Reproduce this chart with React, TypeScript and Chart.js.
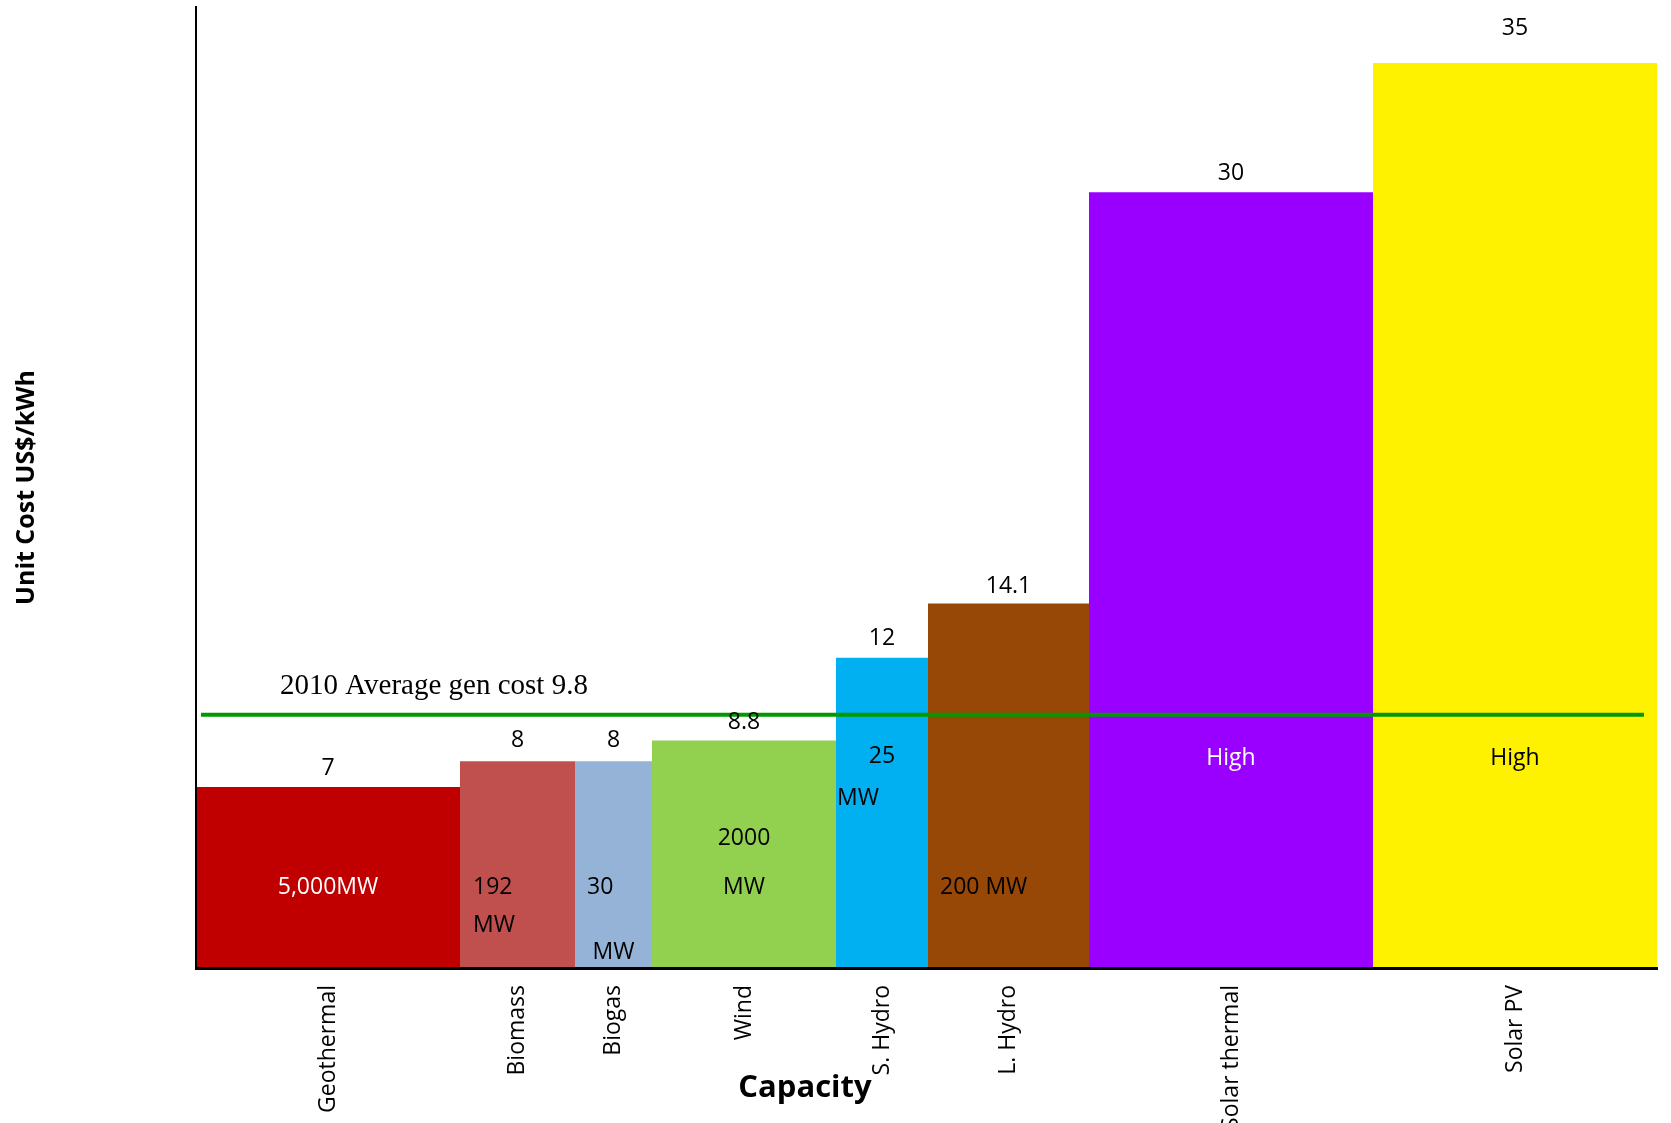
import React, { useEffect, useRef } from 'react';
import { Chart, registerables } from 'chart.js';

Chart.register(...registerables);

// ---------------- data ----------------
const categories = ['Geothermal', 'Biomass', 'Biogas', 'Wind', 'S. Hydro', 'L. Hydro', 'Solar thermal', 'Solar PV'];
const unitCosts = [7, 8, 8, 8.8, 12, 14.1, 30, 35];
const valueLabels = ['7', '8', '8', '8.8', '12', '14.1', '30', '35'];
// relative widths of the bars (capacity axis)
const barWidths = [264, 115, 77, 184, 92, 161, 284, 284];
const averageCost = 9.8;
const averageLabel = '2010 Average gen cost 9.8';
const yAxisTitle = 'Unit Cost US$/kWh';
const xAxisTitle = 'Capacity';
// capacity annotations inside bars: [bar index, text, y value]
const capacityBar = [0, 1, 1, 2, 2, 3, 3, 4, 4, 5, 6, 7];
const capacityText = ['5,000MW', '192', 'MW', '30', 'MW', '2000', 'MW', '25', 'MW', '200 MW', 'High', 'High'];
const capacityY = [3.13, 3.13, 1.66, 3.13, 0.62, 5.03, 3.13, 8.2, 6.54, 3.13, 8.12, 8.12];

// ---------------- styles / layout ----------------
const barColors = ['#C00000', '#C0504D', '#95B3D7', '#92D050', '#00B0F0', '#974706', '#9900FF', '#FFF200'];
const capacityAlign = ['center', 'left', 'left', 'left', 'center', 'center', 'center', 'center', 'left', 'left', 'center', 'center'];
const capacityInset = [0, 13, 13, 12, 0, 0, 0, 0, 1, 12, 0, 0];
const capacityColor = ['#FFFFFF', '#000', '#000', '#000', '#000', '#000', '#000', '#000', '#000', '#000', '#FFFFFF', '#000'];
const valueLabelLift = [19, 21, 21, 18, 19, 17, 19, 35];
const avgLineStart = 5;
const avgLineEnd = 1448;
const avgLabelX = 84;
const xTitleX = 609;
const Y_MAX = 37.17;

const SANS = '"Open Sans", "Noto Sans", sans-serif';

const starts: number[] = [];
barWidths.reduce((acc, w) => {
  starts.push(acc);
  return acc + w;
}, 0);
const totalWidth = barWidths.reduce((a, b) => a + b, 0);

const textPlugin = {
  id: 'textPlugin',
  afterDraw(chart: any) {
    const { ctx, chartArea } = chart;
    const x = chart.scales.x;
    const y = chart.scales.y;
    ctx.save();

    // value labels above bars
    ctx.font = `23px ${SANS}`;
    ctx.fillStyle = '#000';
    ctx.textAlign = 'center';
    ctx.textBaseline = 'middle';
    unitCosts.forEach((v, i) => {
      const cx = x.getPixelForValue(starts[i] + barWidths[i] / 2);
      ctx.fillText(valueLabels[i], cx, y.getPixelForValue(v) - valueLabelLift[i]);
    });

    // capacity annotations
    capacityText.forEach((t, k) => {
      const b = capacityBar[k];
      const align = capacityAlign[k];
      ctx.fillStyle = capacityColor[k];
      ctx.textAlign = align;
      const px =
        align === 'left'
          ? x.getPixelForValue(starts[b]) + capacityInset[k]
          : x.getPixelForValue(starts[b] + barWidths[b] / 2);
      ctx.fillText(t, px, y.getPixelForValue(capacityY[k]));
    });

    // average label
    ctx.fillStyle = '#000';
    ctx.textAlign = 'left';
    ctx.textBaseline = 'alphabetic';
    ctx.font = `29px "Liberation Serif", "Times New Roman", serif`;
    ctx.fillText(averageLabel, x.getPixelForValue(avgLabelX), y.getPixelForValue(averageCost) - 21);

    // category labels (rotated)
    ctx.font = `23px ${SANS}`;
    ctx.textAlign = 'right';
    ctx.textBaseline = 'middle';
    categories.forEach((c, i) => {
      const cx = x.getPixelForValue(starts[i] + barWidths[i] / 2);
      ctx.save();
      ctx.translate(cx, chartArea.bottom + 17);
      ctx.rotate(-Math.PI / 2);
      ctx.fillText(c, 0, 0);
      ctx.restore();
    });

    // x axis title
    ctx.font = `bold 31px ${SANS}`;
    ctx.textAlign = 'center';
    ctx.textBaseline = 'alphabetic';
    ctx.fillText(xAxisTitle, x.getPixelForValue(xTitleX), chartArea.bottom + 129);

    // y axis title
    ctx.save();
    ctx.font = `bold 25px ${SANS}`;
    ctx.textAlign = 'center';
    ctx.textBaseline = 'middle';
    ctx.translate(27, (chartArea.top + chartArea.bottom) / 2);
    ctx.rotate(-Math.PI / 2);
    ctx.fillText(yAxisTitle, 0, 0);
    ctx.restore();

    ctx.restore();
  },
};

export default function App() {
  const ref = useRef<HTMLCanvasElement | null>(null);

  useEffect(() => {
    if (!ref.current) return;
    const barSets = categories.map((c, i) => ({
      type: 'line' as const,
      label: c,
      data: [
        { x: starts[i], y: unitCosts[i] },
        { x: starts[i] + barWidths[i], y: unitCosts[i] },
      ],
      backgroundColor: barColors[i],
      borderColor: barColors[i],
      borderWidth: 0,
      pointRadius: 0,
      fill: 'origin',
      tension: 0,
      order: 2,
    }));
    const avgSet = {
      type: 'line' as const,
      label: 'Average',
      data: [
        { x: avgLineStart, y: averageCost },
        { x: avgLineEnd, y: averageCost },
      ],
      borderColor: '#009900',
      borderWidth: 4,
      pointRadius: 0,
      fill: false,
      order: 0,
    };
    const chart = new Chart(ref.current, {
      type: 'line',
      data: { datasets: [avgSet, ...barSets] as any },
      options: {
        animation: false,
        responsive: false,
        devicePixelRatio: 1,
        events: [],
        layout: { padding: { left: 196, right: 14, top: 7, bottom: 155 } },
        plugins: { legend: { display: false }, tooltip: { enabled: false } },
        scales: {
          x: {
            type: 'linear',
            min: 0,
            max: totalWidth,
            ticks: { display: false },
            grid: { display: false, drawTicks: false },
            border: { display: true, color: '#000', width: 3, z: 1 },
          },
          y: {
            type: 'linear',
            min: 0,
            max: Y_MAX,
            ticks: { display: false },
            grid: { display: false, drawTicks: false },
            border: { display: true, color: '#000', width: 2, z: 1 },
          },
        },
      },
      plugins: [textPlugin],
    });
    return () => chart.destroy();
  }, []);

  return (
    <div style={{ position: 'fixed', left: 0, top: 0, width: 1671, height: 1123, background: '#fff' }}>
      <canvas ref={ref} width={1671} height={1123} style={{ display: 'block' }} />
    </div>
  );
}
